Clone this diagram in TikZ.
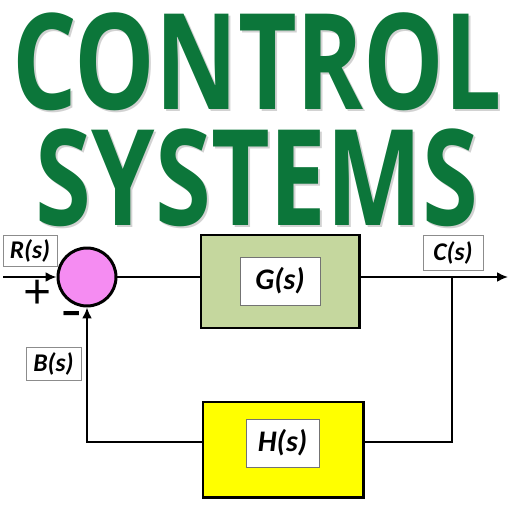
\documentclass[tikz,border=0pt]{standalone}
\usepackage{fontspec}
\usepackage{graphicx}
\newfontfamily\titlefont{Open Sans}
\newfontfamily\boxfont{Carlito}
\usetikzlibrary{arrows.meta}
\definecolor{titlegreen}{RGB}{12,118,58}
\definecolor{sumpink}{RGB}{245,140,242}
\definecolor{gfill}{RGB}{197,215,158}
\definecolor{hfill}{RGB}{255,255,0}
\tikzset{
  block/.style={draw=black, line width=1.7pt, inner sep=0pt},
  tfbox/.style={draw=black!55, fill=white, line width=0.5pt, inner sep=0pt,
    font=\boxfont\bfseries\itshape\fontsize{17}{19}\selectfont},
  sigbox/.style={draw=black!45, fill=white, line width=0.5pt, inner sep=0pt,
    font=\boxfont\bfseries\itshape\fontsize{14.5}{16}\selectfont},
  sign/.style={inner sep=0pt, font=\titlefont\fontsize{28}{28}\selectfont},
  wire/.style={line width=1.2pt},
  sig/.style={wire, -{Latex[length=2.2mm,width=2mm]}},
  title/.style={text=titlegreen, inner sep=0pt,
    font=\titlefont\bfseries\fontsize{76}{80}\selectfont},
  shadow/.style={text=black!35, opacity=0.5, inner sep=0pt,
    font=\titlefont\bfseries\fontsize{76}{80}\selectfont}
}
\begin{document}
\begin{tikzpicture}[x=0.2mm,y=-0.2mm]
\useasboundingbox (0,0) rectangle (512,512);
% title
\node[shadow] (ctlsh) at (259,64) {\scalebox{0.76}[1]{CONTROL}};
\node[title] (ctl) at (257,62) {\scalebox{0.76}[1]{CONTROL}};
\node[shadow] (syssh) at (259,180) {\scalebox{0.76}[1]{SYSTEMS}};
\node[title] (sys) at (257,178) {\scalebox{0.76}[1]{SYSTEMS}};
% blocks
\node[block, circle, fill=sumpink, minimum size=11.6mm] (sum) at (87,277) {};
\node[block, fill=gfill, minimum width=31.6mm, minimum height=18.6mm] (g) at (280,281.5) {};
\node[tfbox, minimum width=16mm, minimum height=9.6mm] (gs) at (280,281) {G(s)};
\node[block, fill=hfill, minimum width=32mm, minimum height=19mm] (h) at (283,449.5) {};
\node[tfbox, minimum width=14.6mm, minimum height=9.6mm] (hs) at (282.5,443) {H(s)};
% signals
\node[sigbox, minimum width=10.8mm, minimum height=6.2mm] (rs) at (30,251) {R(s)};
\node[sigbox, minimum width=12mm, minimum height=7mm] (cs) at (453,252.5) {C(s)};
\node[sigbox, minimum width=11mm, minimum height=6.6mm] (bs) at (53.5,363.5) {B(s)};
\node[sign] (plus) at (38,295) {+};
\node[sign, font=\titlefont\bfseries\fontsize{21}{21}\selectfont] (minus) at (72,317) {–};
\coordinate (in) at (3,277);
\coordinate (out) at (508,277);
\coordinate (br) at (452,277);
\coordinate (fb) at (452,442);
% connectors
\draw[sig] (in) -- (sum.west);
\draw[wire] (sum.east) -- (sum.east -| g.west);
\draw[sig] (sum.east -| g.east) -- (out);
\draw[wire] (br) -- (fb) -- (fb -| h.east);
\draw[sig] (fb -| h.west) -| (sum.south);
\end{tikzpicture}
\end{document}
